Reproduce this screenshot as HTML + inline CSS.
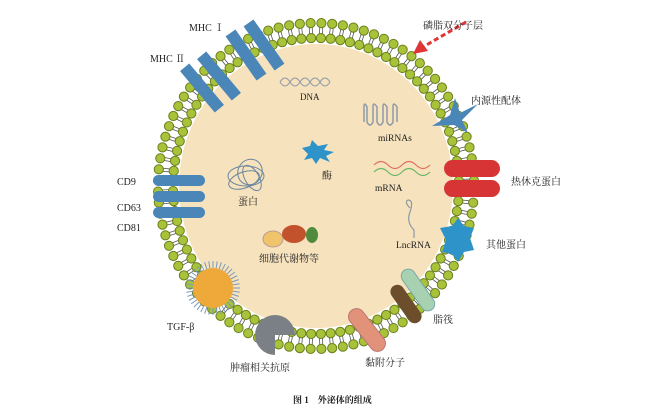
<!DOCTYPE html>
<html><head><meta charset="utf-8"><style>
html,body{margin:0;padding:0;background:#fff;width:653px;height:414px;overflow:hidden}
svg text{font-family:"Liberation Serif","Noto Serif CJK SC",serif;fill:#222}
</style></head><body>
<svg id="s" width="653" height="414" viewBox="0 0 653 414" xmlns="http://www.w3.org/2000/svg">
<ellipse cx="316" cy="186" rx="137" ry="142" fill="#f6e2bd"/>
<g id="mem"></g>
<g fill="#4a86b8">
<rect x="-6" y="-27" width="12" height="54" transform="translate(202,88) rotate(-40)"/>
<rect x="-6" y="-27" width="12" height="54" transform="translate(219,76) rotate(-40)"/>
<rect x="-6" y="-27" width="12" height="54" transform="translate(246,55) rotate(-35)"/>
<rect x="-6" y="-27" width="12" height="54" transform="translate(264,45) rotate(-35)"/>
<rect x="153" y="175" width="52" height="11" rx="5.5"/>
<rect x="153" y="191" width="52" height="11" rx="5.5"/>
<rect x="153" y="207" width="52" height="11" rx="5.5"/>
</g>
<g fill="#d73535">
<rect x="444" y="160" width="56" height="17" rx="8.5"/>
<rect x="444" y="180" width="56" height="17" rx="8.5"/>
</g>
<polygon points="432,126 450,115 455,98 460,113 478,104 462,120 468,133 454,125" fill="#4a86b8"/>
<polygon points="440,228 452,226 458,218 464,226 474,228 470,238 474,250 464,252 458,262 452,254 442,252 446,240" fill="#2e93c9"/>
<rect x="-7" y="-24" width="14" height="48" rx="7" fill="#a7d1b0" stroke="#7aa" stroke-width="1" transform="translate(418,290) rotate(-35)"/>
<rect x="-7" y="-22" width="14" height="44" rx="7" fill="#6d4e2c" transform="translate(406,304) rotate(-35)"/>
<rect x="-8" y="-25" width="16" height="50" rx="8" fill="#e3927a" stroke="#b77" transform="translate(367,330) rotate(-38)"/>
<path d="M275,335 L295,335 A20,20 0 1 0 275,355 Z" fill="#7b7f86"/>
<g id="tgf"></g>
<circle cx="213" cy="288" r="20" fill="#eea93a"/>
<line x1="466" y1="22" x2="423" y2="47" stroke="#e03535" stroke-width="3" stroke-dasharray="5,3"/>
<polygon points="413,54 420,40 428,51" fill="#e03535"/>
<path d="M280,82 q5,-8 10,0 t10,0 t10,0 t10,0 t10,0" fill="none" stroke="#8d9aa6" stroke-width="1"/>
<path d="M280,82 q5,8 10,0 t10,0 t10,0 t10,0 t10,0" fill="none" stroke="#8d9aa6" stroke-width="1"/>
<path d="M364,122 v-15 q0,-6 3,0 v15 q3,6 6,0 v-15 q0,-6 4,0 v15 q3,6 6,0 v-15 q0,-6 4,0 v15 q3,6 6,0 v-15 q0,-6 4,0 v15" fill="none" stroke="#8d9aa6" stroke-width="1.5"/>
<path d="M374,165 q7,-7 14,0 t14,0 t14,0 t14,0" fill="none" stroke="#e07060" stroke-width="1.2"/>
<path d="M374,172 q7,-7 14,0 t14,0 t14,0 t14,0" fill="none" stroke="#6ab86a" stroke-width="1.2"/>
<path d="M410,208 q-6,-6 -2,-8 q6,0 2,12 q-4,10 4,18 v8" fill="none" stroke="#8d9aa6" stroke-width="1.2"/>
<polygon points="302,148 310,146 312,140 318,146 328,144 324,150 334,152 326,156 330,162 320,158 316,164 312,158 304,160 308,154" fill="#2e93c9"/>
<g fill="none" stroke="#6a86a0" stroke-width="1">
<ellipse cx="246" cy="176" rx="18" ry="10"/><ellipse cx="250" cy="172" rx="12" ry="13" transform="rotate(30 250 172)"/>
<ellipse cx="244" cy="180" rx="16" ry="8" transform="rotate(-20 244 180)"/><ellipse cx="252" cy="178" rx="14" ry="7" transform="rotate(60 252 178)"/>
</g>
<ellipse cx="273" cy="239" rx="10" ry="8" fill="#f0c46a" stroke="#b99"/>
<ellipse cx="294" cy="234" rx="12" ry="9" fill="#c2522c"/>
<ellipse cx="312" cy="235" rx="6" ry="8" fill="#4f8a3d"/>
<g font-size="10">
<text x="189" y="31">MHC Ⅰ</text>
<text x="150" y="62">MHC Ⅱ</text>
<text x="423" y="29">磷脂双分子层</text>
<text x="471" y="104">内源性配体</text>
<text x="511" y="185">热休克蛋白</text>
<text x="486" y="248">其他蛋白</text>
<text x="433" y="323">脂筏</text>
<text x="365" y="366">黏附分子</text>
<text x="230" y="371">肿瘤相关抗原</text>
<text x="167" y="330">TGF-β</text>
<text x="117" y="185">CD9</text>
<text x="117" y="211">CD63</text>
<text x="117" y="231">CD81</text>
<text x="300" y="100" font-size="9">DNA</text>
<text x="378" y="141" font-size="9.5">miRNAs</text>
<text x="375" y="191" font-size="9.5">mRNA</text>
<text x="396" y="248" font-size="9.5">LncRNA</text>
<text x="322" y="179">酶</text>
<text x="238" y="205">蛋白</text>
<text x="259" y="262">细胞代谢物等</text>
<text x="293" y="403" font-size="9" font-weight="bold" font-family="'Noto Sans CJK SC',sans-serif">图 1　外泌体的组成</text>
</g>
</svg>
<script>
var NS="http://www.w3.org/2000/svg",m=document.getElementById('mem');
var cx=316,cy=186,rx=158,ry=163;
function add(tag,a,p){var e=document.createElementNS(NS,tag);for(var k in a)e.setAttribute(k,a[k]);(p||m).appendChild(e);}
var N=92;
for(var i=0;i<N;i++){var t=2*Math.PI*(i+0.5)/N,c=Math.cos(t),s=Math.sin(t);
 var px=-s*1.5,py=c*1.5;
 var ax=cx+(rx-3)*c,ay=cy+(ry-3)*s,bx=cx+(rx-12)*c,by=cy+(ry-12)*s;
 add('line',{x1:ax+px,y1:ay+py,x2:bx+px,y2:by+py,stroke:'#555','stroke-width':0.8});
 add('line',{x1:ax-px,y1:ay-py,x2:bx-px,y2:by-py,stroke:'#555','stroke-width':0.8});
}
for(var i=0;i<N;i++){var t=2*Math.PI*(i+0.5)/N,c=Math.cos(t),s=Math.sin(t);
 add('circle',{cx:cx+rx*c,cy:cy+ry*s,r:4.6,fill:'#a8c23a',stroke:'#6a7f1d','stroke-width':1});
 add('circle',{cx:cx+(rx-15)*c,cy:cy+(ry-15)*s,r:4.6,fill:'#a8c23a',stroke:'#6a7f1d','stroke-width':1});
}
var g=document.getElementById('tgf');
for(var i=0;i<40;i++){var t=2*Math.PI*i/40;add('line',{x1:213,y1:288,x2:213+27*Math.cos(t),y2:288+27*Math.sin(t),stroke:'#7a9ab8','stroke-width':1},g);}
</script>
</body></html>
